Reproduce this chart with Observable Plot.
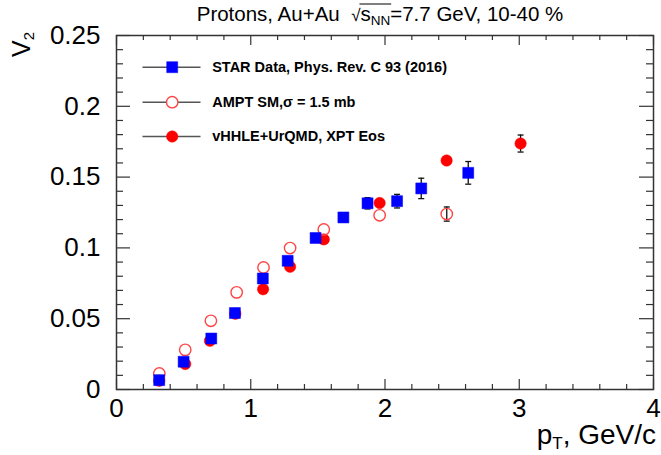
<!DOCTYPE html>
<html>
<head>
<meta charset="utf-8">
<script src="https://cdn.jsdelivr.net/npm/d3@7"></script>
<script src="https://cdn.jsdelivr.net/npm/@observablehq/plot@0.6"></script>
<style>
  html, body { margin: 0; padding: 0; background: #fff; }
  #chart svg { display: block; }
</style>
</head>
<body>
<div id="chart"></div>
<script>
// STAR Data, Phys. Rev. C 93 (2016)
const starPt  = [0.318, 0.50, 0.706, 0.882, 1.09, 1.275, 1.483, 1.69, 1.87, 2.09, 2.27, 2.62];
const starV2  = [0.0066, 0.0196, 0.036, 0.054, 0.0784, 0.0909, 0.107, 0.1215, 0.1315, 0.133, 0.142, 0.153];
const starErr = [0.001, 0.0015, 0.002, 0.002, 0.002, 0.002, 0.002, 0.002, 0.004, 0.0048, 0.0072, 0.008];

// AMPT SM, sigma = 1.5 mb
const amptPt  = [0.319, 0.512, 0.703, 0.895, 1.095, 1.293, 1.544, 1.96, 2.46];
const amptV2  = [0.0113, 0.028, 0.0485, 0.0686, 0.0862, 0.0999, 0.113, 0.123, 0.1239];
const amptErr = [0, 0, 0, 0, 0, 0, 0, 0, 0.005];

// vHHLE+UrQMD, XPT Eos
const hydroPt  = [0.318, 0.512, 0.696, 0.885, 1.092, 1.293, 1.544, 1.96, 2.459, 3.01];
const hydroV2  = [0.0062, 0.018, 0.0344, 0.0535, 0.0708, 0.0867, 0.106, 0.1317, 0.1617, 0.1737];
const hydroErr = [0, 0, 0, 0, 0, 0, 0, 0, 0.002, 0.006];

const legendLabels = ["STAR Data, Phys. Rev. C 93 (2016)", "AMPT SM,\u03c3 = 1.5 mb", "vHHLE+UrQMD, XPT Eos"];
const xTicks = [0, 1, 2, 3, 4];
const yTicks = [0, 0.05, 0.1, 0.15, 0.2, 0.25];

const star  = starPt.map((x, i) => ({x, y: starV2[i], e: starErr[i]}));
const ampt  = amptPt.map((x, i) => ({x, y: amptV2[i], e: amptErr[i]}));
const hydro = hydroPt.map((x, i) => ({x, y: hydroV2[i], e: hydroErr[i]}));
const withErr = [...star, ...ampt, ...hydro].filter(d => d.e > 0);

const xMinor = d3.range(0, 4.0001, 0.2).map(v => +v.toFixed(2)).filter(v => !xTicks.includes(v));
const yMinor = d3.range(0, 0.25001, 0.01).map(v => +v.toFixed(3)).filter(v => !yTicks.some(t => Math.abs(t - v) < 1e-9));

const W = 661, H = 455;
const mL = 116, mR = 8, mT = 35, mB = 66;
const fh = H - mT - mB, fw = W - mL - mR;

const square = {draw(ctx, size) { const r = Math.sqrt(size) / 2; ctx.rect(-r, -r, 2 * r, 2 * r); }};
const cap = {draw(ctx, size) { const r = 3; ctx.moveTo(-r, 0); ctx.lineTo(r, 0); }};
const hline = {draw(ctx, size) { ctx.moveTo(0, 0); ctx.lineTo(58, 0); }};

const blue = "#0000ff", red = "#ff0000", openRed = "#ff4444";
const font = "'Liberation Sans', Arial, Helvetica, sans-serif";

const legendRows = [0, 1, 2].map(i => ({i, label: legendLabels[i]}));
const rowDy = [31.7, 66.7, 101];
const legendText = i => Plot.text(legendRows.filter(d => d.i === i), {frameAnchor: "top-left", dx: 95.7, dy: rowDy[i], text: "label", textAnchor: "start", lineAnchor: "middle", fontSize: 14.5, fontWeight: "bold", fill: "#000"});
const legendLine = i => Plot.dot(legendRows.filter(d => d.i === i), {frameAnchor: "top-left", dx: 26, dy: rowDy[i], symbol: hline, stroke: "#555", strokeWidth: 1.5, r: 1});

const plot = Plot.plot({
  width: W, height: H,
  marginLeft: mL, marginRight: mR, marginTop: mT, marginBottom: mB,
  style: {fontFamily: font, background: "#fff", color: "#000"},
  x: {domain: [0, 4]},
  y: {domain: [0, 0.25]},
  marks: [
    // minor & major ticks, inward, on all four sides
    Plot.tickX(xMinor, {x: d => d, insetTop: fh - 5, stroke: "#333", strokeWidth: 1.2}),
    Plot.tickX(xTicks, {x: d => d, insetTop: fh - 10, stroke: "#333", strokeWidth: 1.2}),
    Plot.tickX(xMinor, {x: d => d, insetBottom: fh - 5, stroke: "#333", strokeWidth: 1.2}),
    Plot.tickX(xTicks, {x: d => d, insetBottom: fh - 10, stroke: "#333", strokeWidth: 1.2}),
    Plot.tickY(yMinor, {y: d => d, insetRight: fw - 7, stroke: "#333", strokeWidth: 1.2}),
    Plot.tickY(yTicks, {y: d => d, insetRight: fw - 14, stroke: "#333", strokeWidth: 1.2}),
    Plot.tickY(yMinor, {y: d => d, insetLeft: fw - 7, stroke: "#333", strokeWidth: 1.2}),
    Plot.tickY(yTicks, {y: d => d, insetLeft: fw - 14, stroke: "#333", strokeWidth: 1.2}),
    Plot.frame({stroke: "#333", strokeWidth: 1.5}),
    Plot.axisX({ticks: xTicks, tickSize: 0, tickPadding: 9, tickFormat: d => String(d), fontSize: 26, label: null}),
    Plot.axisY({ticks: yTicks, tickSize: 0, tickPadding: 16, tickFormat: d => String(d), fontSize: 26, label: null}),

    // error bars
    Plot.ruleX(withErr, {x: "x", y1: d => d.y - d.e, y2: d => d.y + d.e, stroke: "#111", strokeWidth: 1.3}),
    Plot.dot(withErr, {x: "x", y: d => d.y - d.e, symbol: cap, stroke: "#111", strokeWidth: 1.3, r: 3}),
    Plot.dot(withErr, {x: "x", y: d => d.y + d.e, symbol: cap, stroke: "#111", strokeWidth: 1.3, r: 3}),

    // data
    Plot.dot(hydro, {x: "x", y: "y", r: 5.7, fill: red, stroke: red, strokeWidth: 0.5}),
    Plot.dot(ampt, {x: "x", y: "y", r: 5.7, fill: "none", stroke: openRed, strokeWidth: 1.4}),
    Plot.dot(star, {x: "x", y: "y", symbol: square, r: 6.2, fill: blue, stroke: blue, strokeWidth: 0.5}),

    // legend
    legendLine(0), legendLine(1), legendLine(2),
    Plot.dot(legendRows.filter(d => d.i === 0), {frameAnchor: "top-left", dx: 55.7, dy: rowDy[0], symbol: square, r: 6.2, fill: blue, stroke: blue, strokeWidth: 0.5}),
    Plot.dot(legendRows.filter(d => d.i === 1), {frameAnchor: "top-left", dx: 55.7, dy: rowDy[1], r: 5.7, fill: "#fff", stroke: openRed, strokeWidth: 1.4}),
    Plot.dot(legendRows.filter(d => d.i === 2), {frameAnchor: "top-left", dx: 55.7, dy: rowDy[2], r: 5.7, fill: red, stroke: red, strokeWidth: 0.5}),
    legendText(0), legendText(1), legendText(2)
  ]
});

const svg = d3.select(plot);

// Title with sqrt(s_NN)
const title = svg.append("text").attr("x", 380).attr("y", 21).attr("text-anchor", "middle")
  .attr("font-family", font).attr("font-size", 20.5).attr("fill", "#000");
title.append("tspan").text("Protons, Au+Au  ");
title.append("tspan").attr("font-size", 17).text("\u221a");
title.append("tspan").attr("class", "rad").text("s");
title.append("tspan").attr("font-size", 13.5).attr("dy", 4).attr("class", "rad").text("NN");
title.append("tspan").attr("dy", -4).text("=7.7 GeV, 10-40 %");

// Y-axis label V_2 rotated
const yl = svg.append("text").attr("transform", "translate(30,57) rotate(-90)").attr("text-anchor", "start")
  .attr("font-family", font).attr("font-size", 25).attr("fill", "#000");
yl.append("tspan").text("V");
yl.append("tspan").attr("font-size", 15).attr("dy", 4).text("2");

// X-axis label p_T, GeV/c
const xl = svg.append("text").attr("x", 656).attr("y", 444).attr("text-anchor", "end")
  .attr("font-family", font).attr("font-size", 28).attr("fill", "#000");
xl.append("tspan").text("p");
xl.append("tspan").attr("font-size", 17).attr("dy", 5).text("T");
xl.append("tspan").attr("dy", -5).text(", GeV/c");

document.getElementById("chart").appendChild(plot);

// overline for the radical
requestAnimationFrame(() => {
  const rads = plot.querySelectorAll("tspan.rad");
  let x0 = Infinity, x1 = -Infinity, yTop = Infinity;
  rads.forEach(t => {
    const n = t.getNumberOfChars();
    for (let k = 0; k < n; k++) {
      const e = t.getExtentOfChar(k);
      x0 = Math.min(x0, e.x); x1 = Math.max(x1, e.x + e.width); yTop = Math.min(yTop, e.y);
    }
  });
  if (isFinite(x0)) {
    svg.append("line").attr("x1", x0 - 1).attr("x2", x1 + 1).attr("y1", yTop + 2).attr("y2", yTop + 2)
      .attr("stroke", "#000").attr("stroke-width", 1);
  }
});
</script>
</body>
</html>
